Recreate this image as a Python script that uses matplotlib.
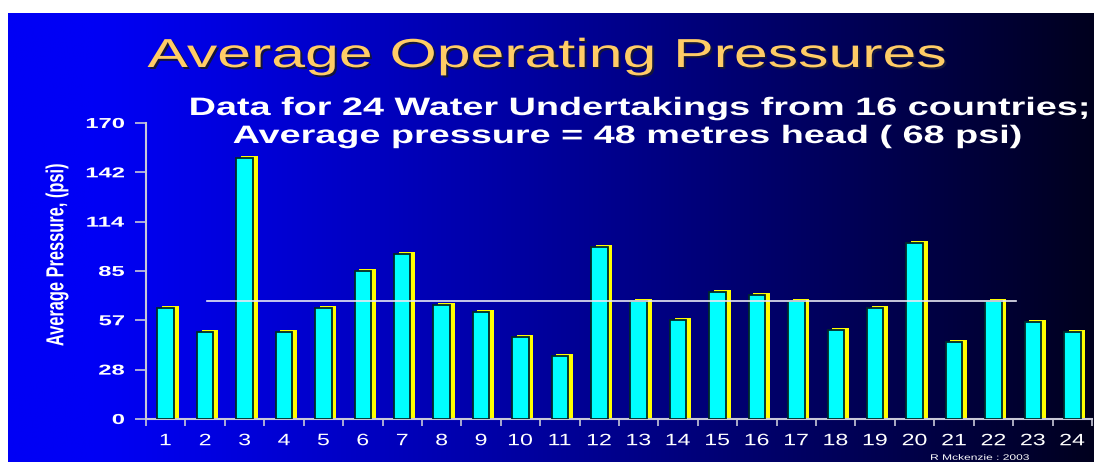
import matplotlib
matplotlib.use("Agg")
import matplotlib.pyplot as plt
import numpy as np
from matplotlib.font_manager import FontProperties
from matplotlib.patches import PathPatch
from matplotlib.textpath import TextPath
from matplotlib.transforms import Affine2D

# -- Data ----------------------------------------------------------------------
UNDERTAKINGS = list(range(1, 25))
PRESSURE_PSI = [64, 50, 150, 50, 64, 85, 95, 65.5, 61.5, 47, 36, 99,
                68, 57, 73, 71, 68, 51, 64, 101, 44.5, 68, 55.5, 50]
AVG_PSI = 68
YTICKS = [0, 170 / 6, 2 * 170 / 6, 3 * 170 / 6, 4 * 170 / 6, 5 * 170 / 6, 170]
YTICK_LABELS = ["0", "28", "57", "85", "114", "142", "170"]

TITLE = "Average Operating Pressures"
SUBTITLE = ["Data for 24 Water Undertakings from 16 countries;",
            "Average pressure = 48 metres head ( 68 psi)"]
YLABEL = "Average Pressure, (psi)"
CREDIT = "R Mckenzie : 2003"

# -- Style ---------------------------------------------------------------------
CYAN = "#00ffff"
YELLOW = "#ffff00"
TITLE_GOLD = "#ffcc66"
AXIS_GREY = "#c8c8d8"
STRETCH = 1.5          # the slide text is drawn wide

W, H = 1094, 462
fig = plt.figure(figsize=(W / 100, H / 100), dpi=100, facecolor="white")

# slide background: bright blue fading to near black on the right
bg = fig.add_axes([8 / W, 0, 1 - 8 / W, (H - 13) / H])
t = np.linspace(0, 1, 512)
level = 245 - 215 * np.clip((t - 0.08) / 0.92, 0, 1) ** 1.1
grad = np.zeros((2, t.size, 3))
grad[..., 2] = level / 255
bg.imshow(grad, aspect="auto", extent=[0, 1, 0, 1])
bg.set_axis_off()

ax = fig.add_axes([146 / W, (H - 419) / H, (1092 - 146) / W, (419 - 123) / H])
ax.set_facecolor("none")

x = np.array(UNDERTAKINGS)
bw = 0.42
# yellow offset shadow behind each bar
ax.bar(x + 0.12, np.array(PRESSURE_PSI) + 1.1, width=bw, color=YELLOW,
       linewidth=0, zorder=2)
ax.bar(x, PRESSURE_PSI, width=bw, color=CYAN, edgecolor="#002a2a",
       linewidth=1.3, zorder=3)

ax.plot([2.05, 22.56], [AVG_PSI, AVG_PSI], color="#e8e8f4", lw=1.2, zorder=4)

ax.set_xlim(0.5, 24.5)
ax.set_ylim(0, 170)
ax.set_xticks(x)
ax.set_xticklabels([])
ax.tick_params(axis="x", length=0)
ax.set_xticks(np.arange(0.5, 25, 1), minor=True)
ax.tick_params(axis="x", which="minor", length=5, width=1.2, color=AXIS_GREY,
               direction="out")
ax.set_yticks(YTICKS)
ax.set_yticklabels([])
ax.tick_params(axis="y", length=8, width=1.2, color=AXIS_GREY)

for side in ("top", "right"):
    ax.spines[side].set_visible(False)
for side in ("left", "bottom"):
    ax.spines[side].set_color(AXIS_GREY)
    ax.spines[side].set_linewidth(1.5)

# overlay in pixel coordinates (y downwards) for the wide slide lettering
ov = fig.add_axes([0, 0, 1, 1], zorder=10)
ov.set_xlim(0, W)
ov.set_ylim(H, 0)
ov.set_axis_off()


def wide_text(s, x0, y0, size, stretch=STRETCH, ha="center", va="baseline",
              weight="normal", color="white", rotate=False, shadow=None):
    fp = FontProperties(family="Liberation Sans", weight=weight)
    tp = TextPath((0, 0), s, size=size, prop=fp)
    bb = tp.get_extents()
    dx = {"center": -(bb.x0 + bb.x1) / 2, "left": -bb.x0, "right": -bb.x1}[ha]
    dy = {"center": -(bb.y0 + bb.y1) / 2, "baseline": 0}[va]
    tr = Affine2D().translate(dx, dy)
    if rotate:
        tr.rotate_deg(90)
    tr.scale(stretch, -1)
    if shadow is not None:
        off, scol = shadow
        sp = (tr + Affine2D().translate(x0 + off, y0 + off)).transform_path(tp)
        ov.add_patch(PathPatch(sp, fc=scol, ec="none"))
    path = (tr + Affine2D().translate(x0, y0)).transform_path(tp)
    ov.add_patch(PathPatch(path, fc=color, ec="none"))


def to_px(xd, yd):
    px, py = ax.transData.transform((xd, yd))
    return px, H - py


wide_text(TITLE, 546, 67, 40.5, color=TITLE_GOLD, shadow=(2, "#15153a"))
wide_text(SUBTITLE[0], 639, 115, 25.2, weight="bold")
wide_text(SUBTITLE[1], 627, 143, 25.2, weight="bold")
wide_text(YLABEL, 57, 255, 16.4, ha="center", va="center", rotate=True,
          weight="bold")
wide_text(CREDIT, 980, 457, 8, va="center")

for xi, lab in zip(UNDERTAKINGS, UNDERTAKINGS):
    px, py = to_px(xi, 0)
    wide_text(str(lab), px, py + 20.5, 16.5, stretch=1.4, va="center")

for yv, lab in zip(YTICKS, YTICK_LABELS):
    px, py = to_px(0.5, yv)
    wide_text(lab, px - 22, py, 14.4, stretch=1.65, ha="right", va="center",
              weight="bold")

fig.savefig("out.png", dpi=100, facecolor=fig.get_facecolor())
